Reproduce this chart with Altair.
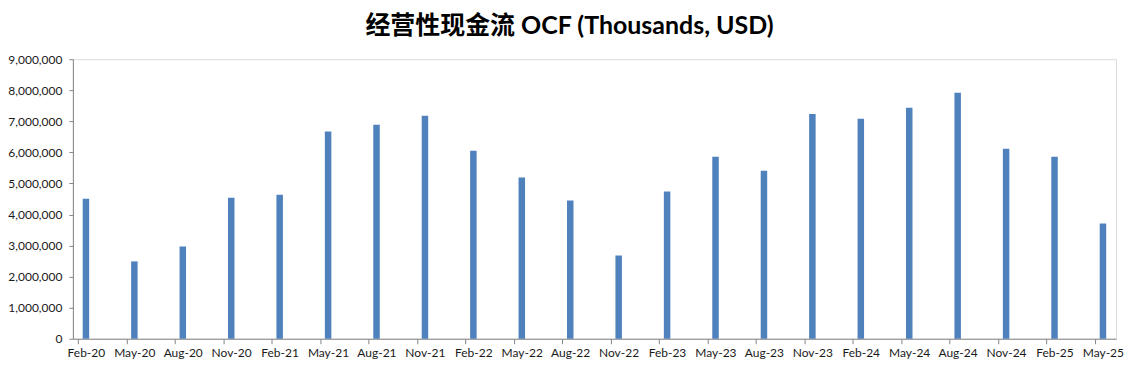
import altair as alt
import pandas as pd

periods = ["Feb-20", "May-20", "Aug-20", "Nov-20", "Feb-21", "May-21", "Aug-21", "Nov-21",
           "Feb-22", "May-22", "Aug-22", "Nov-22", "Feb-23", "May-23", "Aug-23", "Nov-23",
           "Feb-24", "May-24", "Aug-24", "Nov-24", "Feb-25", "May-25"]
ocf = [4510000, 2490000, 2970000, 4540000, 4640000, 6670000, 6890000, 7180000,
       6050000, 5190000, 4450000, 2680000, 4740000, 5860000, 5410000, 7240000,
       7080000, 7440000, 7920000, 6120000, 5860000, 3710000]
y_ticks = [0, 1000000, 2000000, 3000000, 4000000, 5000000, 6000000, 7000000, 8000000, 9000000]

dates = pd.to_datetime(periods, format="%b-%y")
first = dates[0]
month_idx = [(d.year - first.year) * 12 + (d.month - first.month) for d in dates]
n_months = month_idx[-1] + 1

df = pd.DataFrame({"period": periods, "ocf": ocf, "m": month_idx})
df["mid"] = df["m"] + 0.5

label_arr = "[" + ",".join("'" + p + "'" for p in periods) + "]"
label_expr = label_arr + "[round(datum.value/3)]"

font = "Lato"
axis_color = "#868686"

chart = alt.Chart(df).mark_bar(color="#4F81BD", width=6.5).encode(
    x=alt.X("mid:Q",
            scale=alt.Scale(domain=[0, n_months], nice=False, zero=False),
            axis=alt.Axis(title=None, values=month_idx, labelExpr=label_expr,
                          labelOffset=8, grid=False, domainColor=axis_color,
                          tickColor=axis_color, tickSize=5, labelPadding=4,
                          labelFont=font, labelFontSize=12, labelColor="#1a1a1a",
                          labelOverlap=False, labelBound=False, labelFlush=False)),
    y=alt.Y("ocf:Q",
            scale=alt.Scale(domain=[0, 9000000], nice=False),
            axis=alt.Axis(title=None, values=y_ticks, format=",d", grid=False,
                          domainColor=axis_color, tickColor=axis_color, tickSize=4,
                          labelPadding=7, labelFont=font, labelFontSize=12,
                          labelColor="#1a1a1a")),
).properties(
    width=1045,
    height=280,
    autosize=alt.AutoSizeParams(type="none"),
    padding={"left": 65, "top": 51, "right": 15, "bottom": 28},
    title=alt.TitleParams("经营性现金流 OCF (Thousands, USD)", font="Lato, Noto Sans CJK SC",
                          fontSize=25, fontWeight="bold", color="#000000",
                          anchor="middle", offset=14, dx=-25),
).configure_view(stroke=None).configure(background="white")

chart.save("out.html", embed_options={"renderer": "svg", "actions": False})
